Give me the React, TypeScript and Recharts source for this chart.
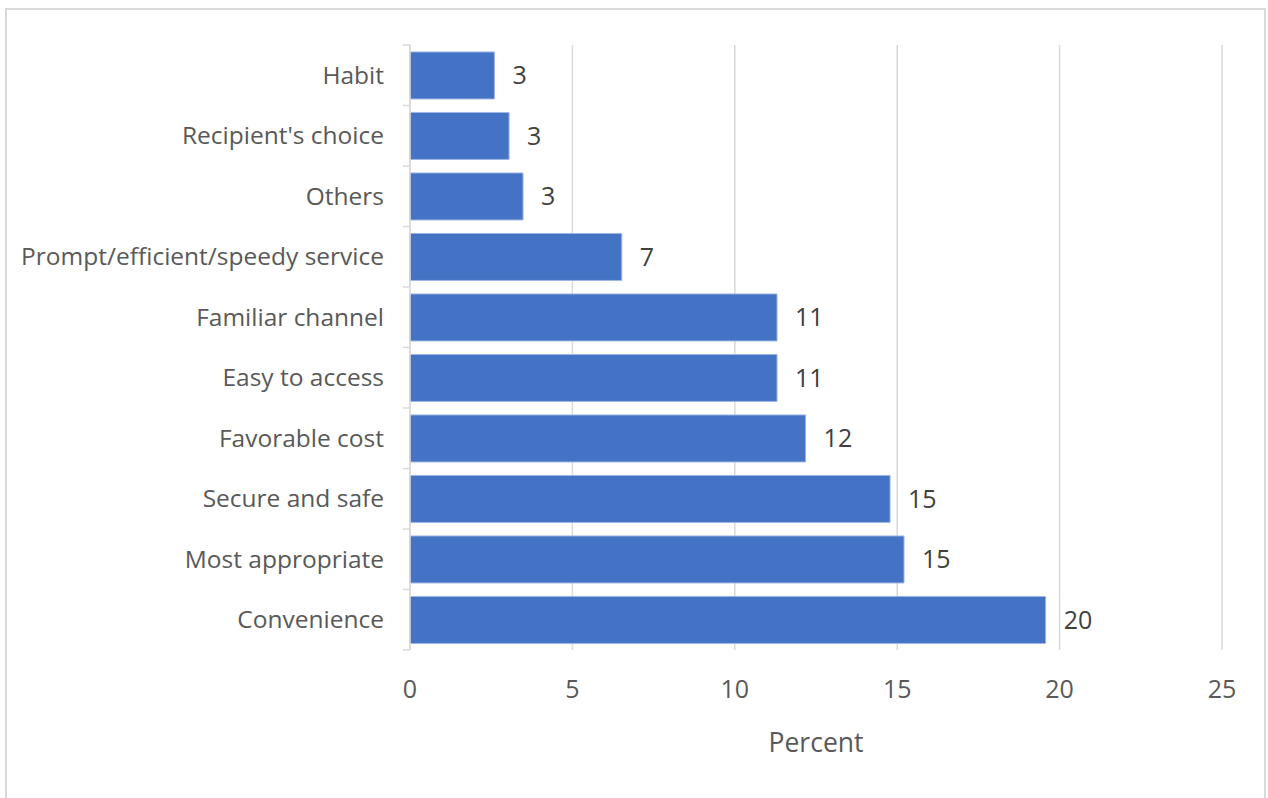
import { BarChart, Bar, XAxis, YAxis, CartesianGrid, LabelList } from 'recharts';

const categories = [
  'Habit',
  "Recipient's choice",
  'Others',
  'Prompt/efficient/speedy service',
  'Familiar channel',
  'Easy to access',
  'Favorable cost',
  'Secure and safe',
  'Most appropriate',
  'Convenience',
];
const percent = [2.6, 3.05, 3.48, 6.52, 11.3, 11.3, 12.18, 14.78, 15.21, 19.57];
const xTicks = [0, 5, 10, 15, 20, 25];

const data = categories.map((name, i) => ({ name, value: percent[i] }));

const FONT = '"Open Sans", sans-serif';
const TICK_SIZE = 7;
const TICK_MARGIN = 19;

// Excel style: label in the middle of the band, tick marks on the band edges
function CategoryTick(props: any) {
  const { x, y, payload, index } = props;
  const half = payload?.offset ?? 30;
  const axisX = x + TICK_SIZE + TICK_MARGIN;
  const last = index === categories.length - 1;
  return (
    <g>
      <line x1={axisX - TICK_SIZE} x2={axisX} y1={y - half} y2={y - half} stroke="#d9d9d9" strokeWidth={1.5} />
      {last && (
        <line x1={axisX - TICK_SIZE} x2={axisX} y1={y + half} y2={y + half} stroke="#d9d9d9" strokeWidth={1.5} />
      )}
      <text x={x} y={y} dy="0.35em" textAnchor="end" fill="#595959" fontSize={24.5} fontFamily={FONT}>
        {payload.value}
      </text>
    </g>
  );
}

export default function App() {
  return (
    <div style={{ position: 'absolute', left: 0, top: 0, width: 1268, height: 798, background: '#fff', overflow: 'hidden' }}>
      <div
        style={{
          position: 'absolute',
          left: 5,
          top: 8,
          width: 1261,
          height: 800,
          border: '2px solid #d9d9d9',
          boxSizing: 'border-box',
        }}
      />
      <BarChart
        width={1268}
        height={798}
        data={data}
        layout="vertical"
        margin={{ top: 45, right: 46, left: 0, bottom: 0 }}
        barCategoryGap="11.5%"
        style={{ position: 'absolute', left: 0, top: 0 }}
      >
        <CartesianGrid horizontal={false} vertical stroke="#d9d9d9" strokeWidth={1.5} />
        <XAxis
          type="number"
          domain={[0, 25]}
          ticks={xTicks}
          axisLine={false}
          tickLine={false}
          tickMargin={24}
          height={148}
          tick={{ fill: '#595959', fontSize: 25, fontFamily: FONT }}
          label={{ value: 'Percent', position: 'insideBottom', offset: 46, fill: '#595959', fontSize: 26.5, fontFamily: FONT }}
        />
        <YAxis
          type="category"
          dataKey="name"
          width={410}
          tickLine={false}
          tickSize={TICK_SIZE}
          tickMargin={TICK_MARGIN}
          axisLine={{ stroke: '#d9d9d9', strokeWidth: 1.5 }}
          tick={<CategoryTick />}
          interval={0}
        />
        <Bar dataKey="value" fill="#4472c4" stroke="#9db5e3" strokeWidth={1} isAnimationActive={false}>
          <LabelList
            dataKey="value"
            position="right"
            offset={18}
            formatter={(v: any) => Math.round(Number(v))}
            fill="#404040"
            fontSize={25}
            fontFamily={FONT}
          />
        </Bar>
      </BarChart>
    </div>
  );
}
